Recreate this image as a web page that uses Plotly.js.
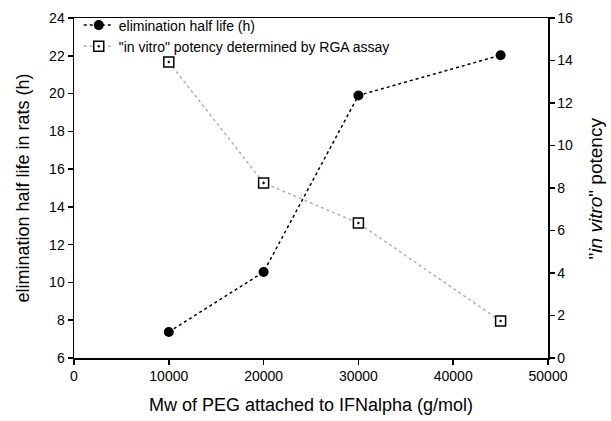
<!DOCTYPE html>
<html>
<head>
<meta charset="utf-8">
<script src="https://cdn.plot.ly/plotly-3.0.1.min.js"></script>
<style>html,body{margin:0;padding:0;background:#fff;}#chart{width:611px;height:421px;}</style>
</head>
<body>
<div id="chart"></div>
<script>
var mwPEG = [10000, 20000, 30000, 45000];
var halfLife = [7.38, 10.55, 19.9, 22.03];
var potency = [13.93, 8.24, 6.35, 1.74];
var seriesNames = ['elimination half life (h)', '"in vitro" potency determined by RGA assay'];
var xTicks = [0, 10000, 20000, 30000, 40000, 50000];
var yTicks = [6, 8, 10, 12, 14, 16, 18, 20, 22, 24];
var y2Ticks = [0, 2, 4, 6, 8, 10, 12, 14, 16];

var font = 'Liberation Sans, Arial, sans-serif';
var traces = [
  {x: mwPEG, y: halfLife, name: seriesNames[0], type: 'scatter', mode: 'lines+markers',
   line: {color: '#000', dash: 'dot', width: 1.5},
   marker: {symbol: 'circle', size: 10, color: '#000'}},
  {x: mwPEG, y: potency, name: seriesNames[1], type: 'scatter', mode: 'lines+markers', yaxis: 'y2',
   line: {color: '#b0b0b0', dash: 'dot', width: 1.5},
   marker: {symbol: 'square-dot', size: 10, color: '#fff', line: {color: '#000', width: 1.5}}}
];
var layout = {
  width: 611, height: 421,
  margin: {l: 74, r: 63, t: 18, b: 63, autoexpand: false},
  paper_bgcolor: '#fff', plot_bgcolor: '#fff',
  font: {family: font, color: '#000', size: 14},
  showlegend: true,
  legend: {x: 0.01, y: 1.025, xanchor: 'left', yanchor: 'top', bgcolor: 'rgba(0,0,0,0)',
           font: {size: 14, family: font}, tracegroupgap: 0, itemwidth: 30},
  xaxis: {range: [0, 50000], tickvals: xTicks, ticktext: xTicks.map(String),
          showgrid: false, zeroline: false, showline: true, linecolor: '#000', linewidth: 1.5,
          mirror: true, ticks: 'outside', ticklen: 5, tickcolor: '#000', tickwidth: 1.5,
          tickfont: {size: 14},
          title: {text: 'Mw of PEG attached to IFNalpha (g/mol)', font: {size: 18}, standoff: 15}},
  yaxis: {range: [6, 24], tickvals: yTicks, showgrid: false, zeroline: false,
          showline: true, linecolor: '#000', linewidth: 1.5, ticks: 'outside', ticklen: 5,
          tickcolor: '#000', tickwidth: 1.5, tickfont: {size: 14},
          title: {text: 'elimination half life in rats (h)', font: {size: 18}, standoff: 15}},
  yaxis2: {range: [0, 16], tickvals: y2Ticks, overlaying: 'y', side: 'right', showgrid: false,
           zeroline: false, showline: true, linecolor: '#000', linewidth: 1.5, ticks: 'outside',
           ticklen: 5, tickcolor: '#000', tickwidth: 1.5, tickfont: {size: 14}},
  annotations: [{text: '"<i>in vitro</i>" potency', xref: 'paper', yref: 'paper',
                 x: 1.1, y: 0.5, xanchor: 'center', yanchor: 'middle', textangle: -90,
                 showarrow: false, font: {size: 19, family: font}}]
};
Plotly.newPlot('chart', traces, layout, {displayModeBar: false, staticPlot: true});
</script>
</body>
</html>
